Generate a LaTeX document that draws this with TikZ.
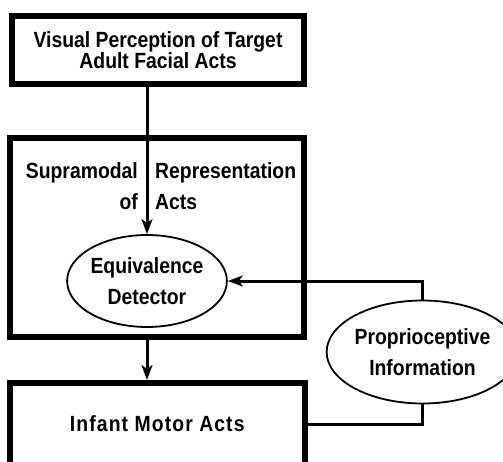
\documentclass[tikz,border=0pt]{standalone}
\usepackage{fontspec}
\setmainfont{Liberation Sans}[FakeStretch=0.88]
\usetikzlibrary{arrows.meta, positioning, shapes.geometric}

\begin{document}
\begin{tikzpicture}[
  x=1pt, y=-1pt,
  box/.style={draw, line width=6pt, inner sep=0pt, align=center, font=\bfseries\fontsize{22}{20.5}\selectfont},
  oval/.style={draw, ellipse, line width=1.8pt, inner sep=0pt, align=center, font=\bfseries\fontsize{22}{31.5}\selectfont},
  lbl/.style={inner sep=0pt, font=\bfseries\fontsize{22}{31}\selectfont},
  link/.style={line width=3pt},
  >={Stealth[length=15pt, width=11pt, inset=4pt]}
]
\clip (0,0) rectangle (503,462);

\node[box, minimum width=291.5pt, minimum height=67.5pt] (visual) at (158,50) {Visual Perception of Target\\Adult Facial Acts};
\node[box, minimum width=293.5pt, minimum height=198pt] (supra) at (156.75,237.5) {};
\node[box, minimum width=294.5pt, minimum height=82pt] (motor) at (157.25,424) {\addfontfeature{LetterSpace=5}Infant Motor Acts};

\node[lbl, anchor=east, align=right] (supraL) at (138,186.5) {Supramodal\\of};
\node[lbl, anchor=west, align=left] (supraR) at (155,186.5) {Representation\\Acts};

\node[oval, minimum width=140pt, minimum height=92pt] (equiv) at (147,281) {Equivalence\\Detector};
\node[oval, minimum width=160pt, minimum height=103pt] (proprio) at (422.5,352) {Proprioceptive\\Information};

\draw[link, ->] (visual.south -| equiv.north) -- (equiv.north);
\draw[link, ->] (supra.south -| equiv.south) -- (motor.north -| equiv.south);
\draw[link, ->] (proprio.north) |- (equiv.east);
\draw[link] (motor.east) -| (proprio.south);
\end{tikzpicture}
\end{document}
